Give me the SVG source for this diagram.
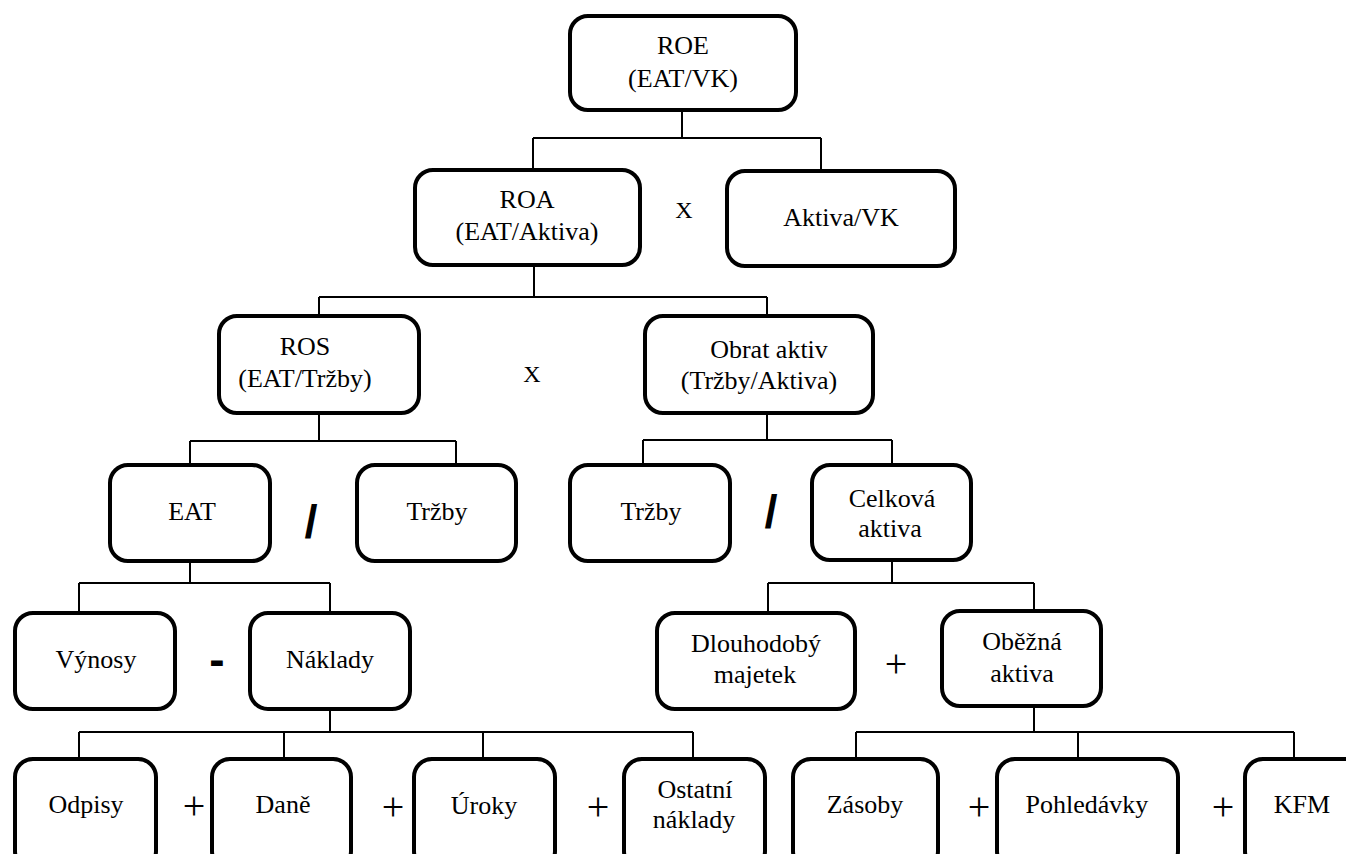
<svg xmlns="http://www.w3.org/2000/svg" width="1346" height="854" viewBox="0 0 1346 854">
  <style>
    .box { fill: #ffffff; stroke: #000000; stroke-width: 4; }
    .serif { font-family: "Liberation Serif", "DejaVu Serif", serif; }
    .lbl { font-size: 26px; fill: #000000; text-anchor: middle; }
    .op { font-size: 24px; fill: #000000; text-anchor: middle; }
    .plus { font-size: 40px; fill: #000000; text-anchor: middle; }
    .bold { font-family: "Liberation Sans", "DejaVu Sans", sans-serif; font-weight: bold; fill: #000000; text-anchor: middle; }
    .conn { fill: none; stroke: #000000; stroke-width: 2; }
  </style>
  <rect x="0" y="0" width="1346" height="854" fill="#ffffff"/>

  <!-- tree connectors -->
  <g id="connectors" class="conn">
    <path d="M682 112 V138 M533 138 H821 M533 138 V168 M821 138 V169"/>
    <path d="M534 267 V297 M319 297 H767 M319 297 V314 M767 297 V314"/>
    <path d="M319 415 V441 M190 441 H456 M190 441 V463 M456 441 V463"/>
    <path d="M767 415 V440 M643 440 H892 M643 440 V463 M892 440 V463"/>
    <path d="M190 563 V583 M79 583 H330 M79 583 V611 M330 583 V611"/>
    <path d="M892 562 V583 M768 583 H1034 M768 583 V611 M1034 583 V609"/>
    <path d="M330 711 V732 M79 732 H693 M79 732 V757 M284 732 V757 M483 732 V757 M693 732 V757"/>
    <path d="M1034 708 V732 M856 732 H1294 M856 732 V757 M1078 732 V757 M1294 732 V757"/>
  </g>

  <g class="serif">
    <!-- level 1 -->
    <g id="roe">
      <rect class="box" x="570" y="16" width="226" height="94" rx="18"/>
      <text class="lbl" x="683" y="54">ROE</text>
      <text class="lbl" x="683" y="87">(EAT/VK)</text>
    </g>

    <!-- level 2 -->
    <g id="roa">
      <rect class="box" x="415" y="170" width="225" height="95" rx="18"/>
      <text class="lbl" x="527" y="208">ROA</text>
      <text class="lbl" x="527" y="240">(EAT/Aktiva)</text>
    </g>
    <g id="aktiva-vk">
      <rect class="box" x="727" y="171" width="228" height="95" rx="18"/>
      <text class="lbl" x="841" y="226">Aktiva/VK</text>
    </g>
    <text class="op" x="684" y="218">X</text>

    <!-- level 3 -->
    <g id="ros">
      <rect class="box" x="219" y="316" width="200" height="97" rx="18"/>
      <text class="lbl" x="305" y="355">ROS</text>
      <text class="lbl" x="305" y="387">(EAT/Tržby)</text>
    </g>
    <g id="obrat-aktiv">
      <rect class="box" x="645" y="316" width="228" height="97" rx="18"/>
      <text class="lbl" x="769" y="358">Obrat aktiv</text>
      <text class="lbl" x="759" y="389">(Tržby/Aktiva)</text>
    </g>
    <text class="op" x="532" y="382">X</text>

    <!-- level 4 -->
    <g id="eat">
      <rect class="box" x="110" y="465" width="160" height="96" rx="18"/>
      <text class="lbl" x="192" y="520">EAT</text>
    </g>
    <g id="trzby-1">
      <rect class="box" x="357" y="465" width="159" height="96" rx="18"/>
      <text class="lbl" x="437" y="520">Tržby</text>
    </g>
    <g id="trzby-2">
      <rect class="box" x="570" y="465" width="160" height="96" rx="18"/>
      <text class="lbl" x="651" y="520">Tržby</text>
    </g>
    <g id="celkova-aktiva">
      <rect class="box" x="812" y="465" width="159" height="95" rx="18"/>
      <text class="lbl" x="892" y="507">Celková</text>
      <text class="lbl" x="890" y="537">aktiva</text>
    </g>

    <!-- level 5 -->
    <g id="vynosy">
      <rect class="box" x="15" y="613" width="160" height="96" rx="18"/>
      <text class="lbl" x="96" y="668">Výnosy</text>
    </g>
    <g id="naklady">
      <rect class="box" x="250" y="613" width="160" height="96" rx="18"/>
      <text class="lbl" x="330" y="668">Náklady</text>
    </g>
    <g id="dlouhodoby-majetek">
      <rect class="box" x="657" y="613" width="198" height="96" rx="18"/>
      <text class="lbl" x="756" y="652">Dlouhodobý</text>
      <text class="lbl" x="755" y="683">majetek</text>
    </g>
    <g id="obezna-aktiva">
      <rect class="box" x="942" y="611" width="159" height="95" rx="18"/>
      <text class="lbl" x="1022" y="650">Oběžná</text>
      <text class="lbl" x="1022" y="682">aktiva</text>
    </g>
    <text class="plus" x="896" y="677">+</text>

    <!-- level 6 -->
    <g id="odpisy">
      <rect class="box" x="15" y="759" width="141" height="110" rx="18"/>
      <text class="lbl" x="86" y="813">Odpisy</text>
    </g>
    <g id="dane">
      <rect class="box" x="212" y="759" width="139" height="110" rx="18"/>
      <text class="lbl" x="283" y="813">Daně</text>
    </g>
    <g id="uroky">
      <rect class="box" x="414" y="759" width="141" height="110" rx="18"/>
      <text class="lbl" x="484" y="814">Úroky</text>
    </g>
    <g id="ostatni-naklady">
      <rect class="box" x="624" y="759" width="141" height="110" rx="18"/>
      <text class="lbl" x="695" y="798">Ostatní</text>
      <text class="lbl" x="694" y="828">náklady</text>
    </g>
    <g id="zasoby">
      <rect class="box" x="793" y="759" width="145" height="110" rx="18"/>
      <text class="lbl" x="865" y="813">Zásoby</text>
    </g>
    <g id="pohledavky">
      <rect class="box" x="997" y="759" width="181" height="110" rx="18"/>
      <text class="lbl" x="1087" y="813">Pohledávky</text>
    </g>
    <g id="kfm">
      <rect class="box" x="1245" y="759" width="118" height="110" rx="18"/>
      <text class="lbl" x="1302" y="813">KFM</text>
    </g>
    <text class="plus" x="194" y="819">+</text>
    <text class="plus" x="393" y="820">+</text>
    <text class="plus" x="598" y="820">+</text>
    <text class="plus" x="979" y="820">+</text>
    <text class="plus" x="1223" y="820">+</text>
  </g>

  <!-- bold division and minus signs -->
  <g>
    <text class="bold" x="311" y="538" font-size="47">/</text>
    <text class="bold" x="771" y="528" font-size="47">/</text>
    <text class="bold" x="217" y="675" font-size="46">-</text>
  </g>
</svg>
